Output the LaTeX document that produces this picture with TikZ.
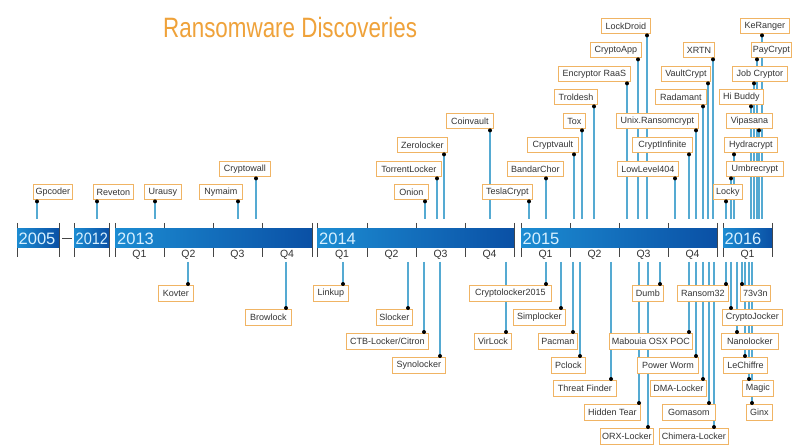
\documentclass[tikz,border=0pt]{standalone}
\usepackage{fontspec}
\setmainfont{Liberation Sans}
\usepackage{graphicx}
\usetikzlibrary{calc}
\pgfdeclarelayer{bg}
\pgfdeclarelayer{lines}
\pgfsetlayers{bg,lines,main}
\definecolor{lblborder}{RGB}{240,180,100}
\definecolor{conncol}{RGB}{85,170,210}
\definecolor{barL}{RGB}{28,140,210}
\definecolor{barR}{RGB}{10,80,165}
\definecolor{yeartxt}{RGB}{215,240,255}
\definecolor{titlecol}{RGB}{239,162,58}
\definecolor{txt}{RGB}{51,51,51}
\definecolor{tickcol}{RGB}{70,70,70}
\tikzset{
  lbl/.style={draw=lblborder, line width=0.9pt, fill=white, text=txt,
    font=\fontsize{9}{10}\selectfont, inner sep=0pt, anchor=north west, minimum height=15.5pt},
  conn/.style={draw=conncol, line width=1.2pt},
  dotmark/.style={fill=black},
  tickmark/.style={draw=tickcol, line width=0.9pt},
  seg/.style={left color=barL, right color=barR},
  yearlbl/.style={text=yeartxt, font=\fontsize{16.5}{17}\selectfont, anchor=west, inner sep=0pt},
  qlbl/.style={text=txt, font=\fontsize{10.5}{11}\selectfont, inner sep=0pt},
}
\newcommand\labup[6]{%
  \node[lbl, minimum width={(#3)-(#2)}] (#1) at (#2,#4) {#6};
  \coordinate (#1e) at (#5,219);
  \begin{pgfonlayer}{lines}
    \draw[conn] (#1e) -- (#1e |- #1.south);
  \end{pgfonlayer}
  \fill[dotmark] ($(#1e |- #1.south)+(0,1)$) circle (2pt);
}
\newcommand\labdn[6]{%
  \node[lbl, minimum width={(#3)-(#2)}] (#1) at (#2,#4) {#6};
  \coordinate (#1e) at (#5,262);
  \begin{pgfonlayer}{lines}
    \draw[conn] (#1e) -- (#1e |- #1.north);
  \end{pgfonlayer}
  \fill[dotmark] ($(#1e |- #1.north)+(0,-1)$) circle (2pt);
}
\begin{document}
\begin{tikzpicture}[x=1pt,y=-1pt]
\begin{pgfonlayer}{bg}
\fill[white] (0,0) rectangle (800,446);
\end{pgfonlayer}
\useasboundingbox (0,0) rectangle (800,446);
\node[anchor=base west, text=titlecol, font=\fontsize{28}{28}\selectfont, inner sep=0pt] (title) at (163,37.5) {\scalebox{0.8}[1]{Ransomware Discoveries}};
% ticks
\foreach \x in {17,59,74,109,115,164,213,262,312,317,367,416,465,514,521,570,619,668,717,723,772}
  \draw[tickmark] (\x,223) -- (\x,257);
% bar
\shade[seg] (17,229) rectangle (59,248);
\shade[seg] (74,229) rectangle (109,248);
\shade[seg] (115,229) rectangle (312,248);
\shade[seg] (317,229) rectangle (514,248);
\shade[seg] (521,229) rectangle (717,248);
\shade[seg] (723,229) rectangle (772,248);
\draw[tickcol, line width=1.1pt] (62,238.5) -- (72,238.5);
\node[yearlbl] (y2005) at (18.5,238.5) {2005};
\node[yearlbl] (y2012) at (75.5,238.5) {\scalebox{0.88}[1]{2012}};
\node[yearlbl] (y2013) at (117,238.5) {2013};
\node[yearlbl] (y2014) at (319,238.5) {2014};
\node[yearlbl] (y2015) at (522.5,238.5) {2015};
\node[yearlbl] (y2016) at (724.5,238.5) {2016};
\foreach \c/\n/\q in {139.5/a1/1,188.5/a2/2,237.5/a3/3,287/a4/4,342/b1/1,391.5/b2/2,440.5/b3/3,489.5/b4/4,545.5/c1/1,594.5/c2/2,643.5/c3/3,692.5/c4/4,747.5/d1/1}{
  \node[qlbl] (q\n) at (\c,254.5) {Q\q};
}
% above labels
\labup{gpcoder}{33}{72}{184}{37}{Gpcoder}
\labup{reveton}{93}{133}{184}{97}{Reveton}
\labup{urausy}{144}{181}{184}{155}{Urausy}
\labup{nymaim}{199}{242}{184}{238}{Nymaim}
\labup{cryptowall}{219}{270}{161}{256}{Cryptowall}
\labup{onion}{394}{428}{184}{425}{Onion}
\labup{torrent}{376}{441}{161}{437}{TorrentLocker}
\labup{zerolocker}{397}{447}{137}{444}{Zerolocker}
\labup{coinvault}{446}{493}{113}{490}{Coinvault}
\labup{tesla}{482}{532}{184}{529}{TeslaCrypt}
\labup{bandar}{507}{563}{161}{546}{BandarChor}
\labup{cryptvault}{527}{578}{137}{574}{Cryptvault}
\labup{tox}{563}{585}{113}{582}{Tox}
\labup{troldesh}{554}{597}{89}{594}{Troldesh}
\labup{encraas}{558}{630}{66}{627}{Encryptor RaaS}
\labup{cryptoapp}{590}{641}{42}{638}{CryptoApp}
\labup{lockdroid}{601}{650}{18}{647}{LockDroid}
\labup{unixrc}{616}{698}{113}{696}{Unix.Ransomcrypt}
\labup{cryptinf}{632}{692}{137}{689}{CryptInfinite}
\labup{lowlevel}{617}{678}{161}{675}{LowLevel404}
\labup{radamant}{655}{706}{89}{703}{Radamant}
\labup{vaultcrypt}{661}{710}{66}{708}{VaultCrypt}
\labup{xrtn}{683}{714}{42}{713}{XRTN}
\labup{keranger}{740}{789}{18}{762}{KeRanger}
\labup{paycrypt}{751}{791}{42}{757}{PayCrypt}
\labup{jobcryptor}{732}{787}{66}{754}{Job Cryptor}
\labup{hibuddy}{719}{763}{89}{751}{Hi Buddy}
\labup{vipasana}{726}{772}{113}{759}{Vipasana}
\labup{hydracrypt}{724}{777}{137}{734}{Hydracrypt}
\labup{umbrecrypt}{726}{783}{161}{731}{Umbrecrypt}
\labup{locky}{713}{742}{184}{726}{Locky}
% below labels
\labdn{kovter}{158}{193}{285}{188}{Kovter}
\labdn{browlock}{245}{291}{309}{286}{Browlock}
\labdn{linkup}{313}{348}{285}{343}{Linkup}
\labdn{slocker}{376}{412}{309}{408}{Slocker}
\labdn{ctb}{346}{428}{333}{424}{CTB-Locker/Citron}
\labdn{synolocker}{392}{445}{357}{440}{Synolocker}
\labdn{cl2015}{469}{551}{285}{546}{Cryptolocker2015}
\labdn{virlock}{474}{511}{333}{506}{VirLock}
\labdn{simplocker}{513}{565}{309}{561}{Simplocker}
\labdn{pacman}{538}{577}{333}{573}{Pacman}
\labdn{pclock}{551}{585}{357}{580}{Pclock}
\labdn{threatf}{553}{616}{380}{611}{Threat Finder}
\labdn{hiddentear}{584}{640}{404}{639}{Hidden Tear}
\labdn{orx}{600}{653}{428}{648}{ORX-Locker}
\labdn{dumb}{632}{663}{285}{660}{Dumb}
\labdn{mabouia}{609}{692}{333}{689}{Mabouia OSX POC}
\labdn{powerworm}{637}{698}{357}{696}{Power Worm}
\labdn{dma}{650}{706}{380}{703}{DMA-Locker}
\labdn{gomasom}{662}{715}{404}{709}{Gomasom}
\labdn{chimera}{659}{728}{428}{714}{Chimera-Locker}
\labdn{ransom32}{677}{728}{285}{726}{Ransom32}
\labdn{tvn}{740}{770}{285}{742}{73v3n}
\labdn{cryptojocker}{722}{782}{309}{731}{CryptoJocker}
\labdn{nanolocker}{721}{778}{333}{737}{Nanolocker}
\labdn{lechiffre}{723}{767}{357}{745}{LeChiffre}
\labdn{magic}{742}{773}{380}{749}{Magic}
\labdn{ginx}{746}{772}{404}{752}{Ginx}
\end{tikzpicture}
\end{document}
